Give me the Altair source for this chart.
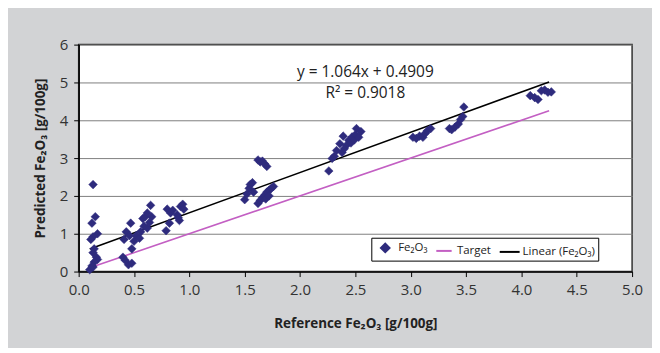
import altair as alt
import pandas as pd

# Measured points (Reference vs Predicted Fe2O3)
ref_x = [0.13, 0.15, 0.12, 0.17, 0.13, 0.11, 0.14, 0.13, 0.16, 0.17, 0.14, 0.12, 0.10, 0.13,
         0.40, 0.42, 0.45, 0.48, 0.41, 0.43, 0.46, 0.47, 0.48, 0.50, 0.52, 0.55, 0.56, 0.58,
         0.59, 0.60, 0.62, 0.62, 0.64, 0.65, 0.66,
         0.79, 0.80, 0.82, 0.83, 0.85, 0.89, 0.91, 0.92, 0.94, 0.95, 0.90,
         1.50, 1.52, 1.54, 1.55, 1.57, 1.58, 1.62, 1.64, 1.66, 1.68, 1.70, 1.62, 1.64, 1.66,
         1.68, 1.70, 1.72, 1.74, 1.76, 1.69, 1.72,
         2.26, 2.29, 2.31, 2.33, 2.36, 2.38, 2.39, 2.42, 2.44, 2.46, 2.47, 2.49, 2.50, 2.51,
         2.53, 2.55, 2.40,
         3.02, 3.05, 3.08, 3.11, 3.13, 3.15, 3.18,
         3.35, 3.37, 3.40, 3.43, 3.45, 3.47, 3.48,
         4.08, 4.12, 4.15, 4.18, 4.21, 4.24, 4.27]
pred_y = [2.30, 1.45, 1.28, 1.00, 0.92, 0.85, 0.60, 0.50, 0.38, 0.32, 0.25, 0.15, 0.05, 0.12,
          0.38, 0.30, 0.18, 0.22, 0.85, 1.05, 0.95, 1.28, 0.60, 0.80, 0.95, 0.88, 1.05, 1.40,
          1.20, 1.45, 1.15, 1.55, 1.30, 1.75, 1.45,
          1.08, 1.65, 1.28, 1.55, 1.62, 1.50, 1.35, 1.72, 1.78, 1.65, 1.42,
          1.90, 2.05, 2.20, 2.30, 2.35, 2.10, 2.95, 2.90, 2.92, 2.85, 2.78, 1.80, 1.88, 1.95,
          2.02, 2.10, 2.15, 2.20, 2.25, 1.92, 2.00,
          2.66, 2.99, 3.05, 3.20, 3.38, 3.15, 3.58, 3.34, 3.47, 3.40, 3.56, 3.48, 3.62, 3.78,
          3.55, 3.70, 3.25,
          3.55, 3.52, 3.58, 3.55, 3.65, 3.72, 3.78,
          3.78, 3.75, 3.82, 3.90, 4.02, 4.10, 4.35,
          4.65, 4.60, 4.55, 4.78, 4.80, 4.74, 4.75]

line_x = [0.10, 4.25]
slope = 1.064
intercept = 0.4909

eq_lines = ["y = 1.064x + 0.4909", "R² = 0.9018"]
eq_x = [2.59, 2.59]
eq_y = [5.27, 4.73]

x_ticks = [0, 0.5, 1, 1.5, 2, 2.5, 3, 3.5, 4, 4.5, 5]
y_ticks = [0, 1, 2, 3, 4, 5, 6]

S_PTS = "Fe₂O₃"
S_TGT = "Target"
S_LIN = "Linear (Fe₂O₃)"
series = [S_PTS, S_TGT, S_LIN]
colors = ["#2e2b7d", "#c35fc3", "#000000"]

pts = pd.DataFrame({"x": ref_x, "y": pred_y, "series": S_PTS})
lines = pd.DataFrame({
    "x": line_x + line_x,
    "y": [v for v in line_x] + [slope * v + intercept for v in line_x],
    "series": [S_TGT, S_TGT, S_LIN, S_LIN],
})
eq = pd.DataFrame({"x": eq_x, "y": eq_y, "t": eq_lines})

FONT = "Open Sans"

xs = alt.Scale(domain=[0, 5], nice=False, zero=False, padding=0)
ys = alt.Scale(domain=[0, 6], nice=False, zero=False, padding=0)

fill_scale = alt.Scale(domain=series, range=colors)
stroke_scale = alt.Scale(domain=series, range=colors)
shape_scale = alt.Scale(domain=series, range=["diamond", "stroke", "stroke"])
size_scale = alt.Scale(domain=series, range=[75, 400, 400])

legend = alt.Legend(
    title=None, orient="none", legendX=294, legendY=194, direction="horizontal",
    columns=3, fillColor="white", strokeColor="#000000", padding=3,
    labelFont=FONT, labelFontSize=11.5, labelColor="#222222", symbolStrokeWidth=2,
    columnPadding=4, labelOffset=2,
)

x_axis = alt.Axis(title="Reference Fe₂O₃ [g/100g]", values=x_ticks, format=".1f",
                  grid=False, labelOverlap=False, labelFlush=False)
y_axis = alt.Axis(title="Predicted Fe₂O₃ [g/100g]", values=y_ticks, format="d",
                  grid=True, labelOverlap=False, labelFlush=False)


def xe():
    return alt.X("x:Q", scale=xs, axis=x_axis)


def ye():
    return alt.Y("y:Q", scale=ys, axis=y_axis)


line_layer = alt.Chart(lines).mark_line(strokeWidth=1.6).encode(
    x=xe(), y=ye(),
    stroke=alt.Stroke("series:N", scale=stroke_scale, legend=legend),
    detail="series:N",
)

pt_layer = alt.Chart(pts).mark_point(filled=True, opacity=1, strokeWidth=0.5).encode(
    x=xe(), y=ye(),
    fill=alt.Fill("series:N", scale=fill_scale, legend=legend),
    stroke=alt.Stroke("series:N", scale=stroke_scale, legend=legend),
    shape=alt.Shape("series:N", scale=shape_scale, legend=legend),
    size=alt.Size("series:N", scale=size_scale, legend=legend),
)

txt = alt.Chart(eq).mark_text(font=FONT, fontSize=15.5, color="#222222", align="center").encode(
    x=xe(), y=ye(), text="t:N")

chart = alt.layer(line_layer, pt_layer, txt).properties(
    width=556, height=228,
    background="#d2d3d5",
    padding={"left": 71, "top": 36, "right": 20, "bottom": 76},
    autosize=alt.AutoSizeParams(type="none"),
).configure_view(
    fill="white", stroke="#333333", strokeWidth=1.5
).configure_axis(
    labelFont=FONT, labelFontSize=15, labelColor="#333333",
    titleFont=FONT, titleFontSize=13.5, titleFontWeight="bold", titleColor="#222222",
    domainColor="#000000", domainWidth=1.5, tickColor="#000000", tickSize=5,
    gridColor="#7f7f7f", gridWidth=1,
).configure_axisX(
    labelPadding=6, titlePadding=19,
).configure_axisY(
    labelPadding=6, titlePadding=12,
)

chart.save("out.html", embed_options={"renderer": "svg", "actions": False})
